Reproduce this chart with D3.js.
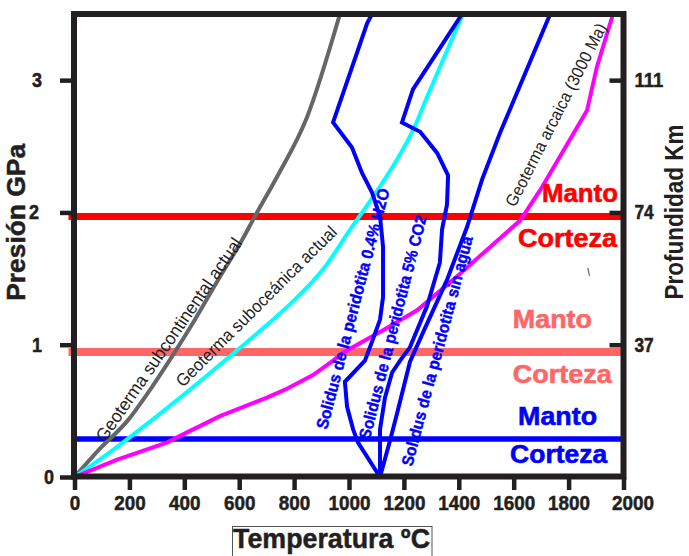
<!DOCTYPE html>
<html><head><meta charset="utf-8">
<script src="https://cdn.jsdelivr.net/npm/d3@7"></script>
<style>body{margin:0;background:#fff;} svg{display:block;}</style>
</head><body>
<svg id="chart" width="689" height="556"></svg>
<script>
// ---------- DATA ----------
const tempTicks = [0,200,400,600,800,1000,1200,1400,1600,1800,2000];
const pressureTicks = [0,1,2,3];
const depthTicks = [37,74,111];

// geotherms: [temperature °C, pressure GPa]
const geoSubcontinental = [[0,0],[86,0.20],[195,0.43],[282,0.68],[355,0.91],[439,1.19],[523,1.49],[610,1.79],[665,2.0],[738,2.27],[847,2.72],[967,3.50]];
const geoSuboceanic = [[0,0],[137,0.20],[282,0.43],[403,0.63],[548,0.88],[668,1.09],[792,1.32],[913,1.59],[1004,1.87],[1088,2.12],[1175,2.40],[1233,2.62],[1284,2.87],[1342,3.15],[1415,3.50]];
const geoArchean = [[0,0],[153,0.13],[336,0.26],[403,0.33],[530,0.46],[701,0.60],[767,0.66],[869,0.77],[942,0.88],[978,0.94],[1124,1.11],[1248,1.26],[1379,1.49],[1624,1.94],[1697,2.17],[1867,2.77],[1903,3.10],[1962,3.50]];

// solidus curves
const solidusH2O = [[1084,3.50],[1066,3.43],[942,2.68],[1011,2.49],[1047,2.30],[1084,2.15],[1113,1.97],[1124,1.74],[1124,1.36],[1113,1.19],[1087,1.04],[1058,0.88],[985,0.72],[993,0.53],[1015,0.36],[1033,0.26],[1113,0.0]];
const solidusCO2 = [[1412,3.50],[1321,3.21],[1233,2.93],[1193,2.68],[1259,2.61],[1321,2.45],[1361,2.28],[1357,2.06],[1339,1.87],[1331,1.62],[1284,1.29],[1222,0.98],[1186,0.88],[1157,0.79],[1131,0.60],[1113,0.36],[1113,0.0]];
const solidusDry = [[1733,3.50],[1550,2.60],[1485,2.25],[1430,1.89],[1357,1.49],[1269,1.09],[1222,0.87],[1175,0.48],[1150,0.28],[1113,0.0]];

// crust/mantle boundaries (GPa)
const boundaryPressures = [1.97, 0.945, 0.287];
const boundaryNames = ["Manto","Corteza"];

// curve label texts
const curveLabelTexts = [
  "Geoterma subcontinental actual",
  "Geoterma suboceánica actual",
  "Geoterma arcaica (3000 Ma)",
  "Solidus de la peridotita 0.4% H2O",
  "Solidus de la peridotita 5% CO2",
  "Solidus de la peridotita sin agua"
];
// label anchors (start, end) in data units [°C, GPa]
const curveLabelAnchors = [
  [[111,0.257],[614,1.769]],
  [[395,0.673],[960,1.844]],
  [[1605,2.033],[1940,3.402]],
  [[920,0.355],[1149,2.169]],
  [[1076,0.280],[1284,1.965]],
  [[1230,0.076],[1452,1.807]]
];
// Manto / Corteza label anchors [°C, GPa]
const zoneLabelAnchors = [
  [[1703,2.079],[1616,1.739]],
  [[1597,1.126],[1597,0.711]],
  [[1616,0.393],[1587,0.106]]
];

// ---------- STYLES ----------
const FONT = "'Liberation Sans', Arial, Helvetica, sans-serif";
const DARK = "#231f20";
const boundaryStyles = [
  {color:"#ff0000", width:7, x0:-6},
  {color:"#ff6666", width:8, x0:-6},
  {color:"#0000ff", width:5.5, x0:0}
];
const zoneWidths = [[76,99],[79,99],[79,97]];
const curveLabelStyles = [
  {color:"#222", weight:"normal", size:18, stroke:0},
  {color:"#222", weight:"normal", size:17.5, stroke:0},
  {color:"#222", weight:"normal", size:17, stroke:0},
  {color:"#0000ff", weight:"bold", size:16.5, stroke:0.4},
  {color:"#0000ff", weight:"bold", size:16.5, stroke:0.4},
  {color:"#0000ff", weight:"bold", size:16.5, stroke:0.4}
];

// ---------- SCALES ----------
const svg = d3.select("#chart");
const x = d3.scaleLinear().domain([0,2000]).range([74.5,623.5]);
const y = d3.scaleLinear().domain([0,3.5]).range([477,14]);
const yDepth = d3.scaleLinear().domain([0,3.5*37]).range([477,14]);

svg.append("defs").append("clipPath").attr("id","plotclip")
  .append("rect").attr("x",x(0)-8).attr("y",y(3.5)).attr("width",x(2000)-x(0)+6).attr("height",y(0)-y(3.5)+1);

const plot = svg.append("g").attr("clip-path","url(#plotclip)");

// boundary lines
boundaryPressures.forEach((p,i)=>{
  const st = boundaryStyles[i];
  plot.append("line").attr("x1",x(0)+st.x0).attr("x2",x(2000)-2)
    .attr("y1",y(p)).attr("y2",y(p))
    .attr("stroke",st.color).attr("stroke-width",st.width);
});

// curves
const smooth = d3.line().x(d=>x(d[0])).y(d=>y(d[1])).curve(d3.curveMonotoneX);
const straight = d3.line().x(d=>x(d[0])).y(d=>y(d[1]));
const curves = [
  {data:geoSubcontinental, gen:smooth, color:"#666666"},
  {data:geoSuboceanic, gen:smooth, color:"#00ffff"},
  {data:geoArchean, gen:straight, color:"#ff00ff"},
  {data:solidusH2O, gen:straight, color:"#0000ff"},
  {data:solidusCO2, gen:straight, color:"#0000ff"},
  {data:solidusDry, gen:straight, color:"#0000ff"}
];
curves.forEach(c=>{
  plot.append("path").attr("d",c.gen(c.data)).attr("fill","none")
    .attr("stroke",c.color).attr("stroke-width",4).attr("stroke-linejoin","miter");
});

// frame
svg.append("rect").attr("x",x(0)-0.5).attr("y",y(3.5)).attr("width",x(2000)-x(0)+0.5).attr("height",y(0)-y(3.5)-0.5)
  .attr("fill","none").attr("stroke",DARK).attr("stroke-width",6);

// axes
function styleAxis(g){
  g.select(".domain").remove();
  g.selectAll(".tick line").attr("stroke",DARK).attr("stroke-width",4.5);
  g.selectAll(".tick text").attr("fill",DARK).attr("stroke",DARK).attr("stroke-width",0.5)
    .style("font-family",FONT).style("font-weight","bold").style("font-size","20px")
    .attr("lengthAdjust","spacingAndGlyphs");
}
const gx = svg.append("g").attr("transform",`translate(0,${y(0)})`)
  .call(d3.axisBottom(x).tickValues(tempTicks).tickSize(13).tickPadding(6).tickFormat(d3.format("d")));
styleAxis(gx);
gx.selectAll(".tick text").attr("textLength",d=>String(d).length*10.5)
  .attr("dx",d=>d===2000?9:0);

const gy = svg.append("g").attr("transform",`translate(${x(0)-0.5},0)`)
  .call(d3.axisLeft(y).tickValues(pressureTicks).tickSize(14).tickPadding(18).tickFormat(d3.format("d")));
styleAxis(gy);
gy.selectAll(".tick text").attr("textLength",10).attr("dx",d=>d===0?12:(d===2?-3:0));

const gr = svg.append("g").attr("transform",`translate(${x(2000)},0)`)
  .call(d3.axisRight(yDepth).tickValues(depthTicks).tickSize(-14).tickPadding(11).tickFormat(d3.format("d")));
styleAxis(gr);
gr.selectAll(".tick text").attr("textLength",d=>String(d).length*9.6);

// axis titles
function title(sel){
  return sel.attr("lengthAdjust","spacingAndGlyphs")
    .style("font-family",FONT).style("font-weight","bold")
    .attr("fill",DARK).attr("stroke",DARK).attr("stroke-width",0.5);
}
title(svg.append("text").attr("transform",`translate(25,${y(0)-(y(0)-y(3.5))*0.55}) rotate(-90)`)
  .attr("text-anchor","middle").attr("textLength",157).style("font-size","26px"))
  .text("Presión GPa");
svg.append("text").attr("transform",`translate(683,212) rotate(-90)`)
  .attr("text-anchor","middle").attr("textLength",175).attr("lengthAdjust","spacingAndGlyphs")
  .style("font-family",FONT).style("font-weight","bold").style("font-size","25.5px")
  .attr("fill",DARK).text("Profundidad Km");
svg.append("rect").attr("x",232.5).attr("y",526.5).attr("width",199.5).attr("height",40)
  .attr("fill","none").attr("stroke","#555").attr("stroke-width",1);
title(svg.append("text").attr("x",233).attr("y",548).attr("textLength",197).style("font-size","28px"))
  .text("Temperatura ºC");

// zone labels
zoneLabelAnchors.forEach((pair,i)=>{
  pair.forEach((a,j)=>{
    svg.append("text").attr("x",x(a[0])).attr("y",y(a[1]))
      .attr("textLength",zoneWidths[i][j]).attr("lengthAdjust","spacingAndGlyphs")
      .style("font-family",FONT).style("font-weight","bold").style("font-size","26px")
      .attr("fill",boundaryStyles[i].color).attr("stroke",boundaryStyles[i].color).attr("stroke-width",0.6)
      .text(boundaryNames[j]);
  });
});

// curve labels
curveLabelTexts.forEach((t,i)=>{
  const [s,e] = curveLabelAnchors[i];
  const x0=x(s[0]), y0=y(s[1]), x1=x(e[0]), y1=y(e[1]);
  const ang = Math.atan2(y1-y0,x1-x0)*180/Math.PI;
  const len = Math.hypot(x1-x0,y1-y0);
  const st = curveLabelStyles[i];
  const tx = svg.append("text").attr("transform",`translate(${x0},${y0}) rotate(${ang})`)
    .attr("textLength",len).attr("lengthAdjust","spacingAndGlyphs")
    .style("font-family",FONT).style("font-weight",st.weight).style("font-size",st.size+"px")
    .attr("fill",st.color).text(t);
  if (st.stroke) tx.attr("stroke",st.color).attr("stroke-width",st.stroke);
});

// small stray stroke present in the original figure
svg.append("line").attr("x1",x(1870)).attr("y1",y(1.58)).attr("x2",x(1876)).attr("y2",y(1.52))
  .attr("stroke","#666").attr("stroke-width",1.2);
</script>
</body></html>
